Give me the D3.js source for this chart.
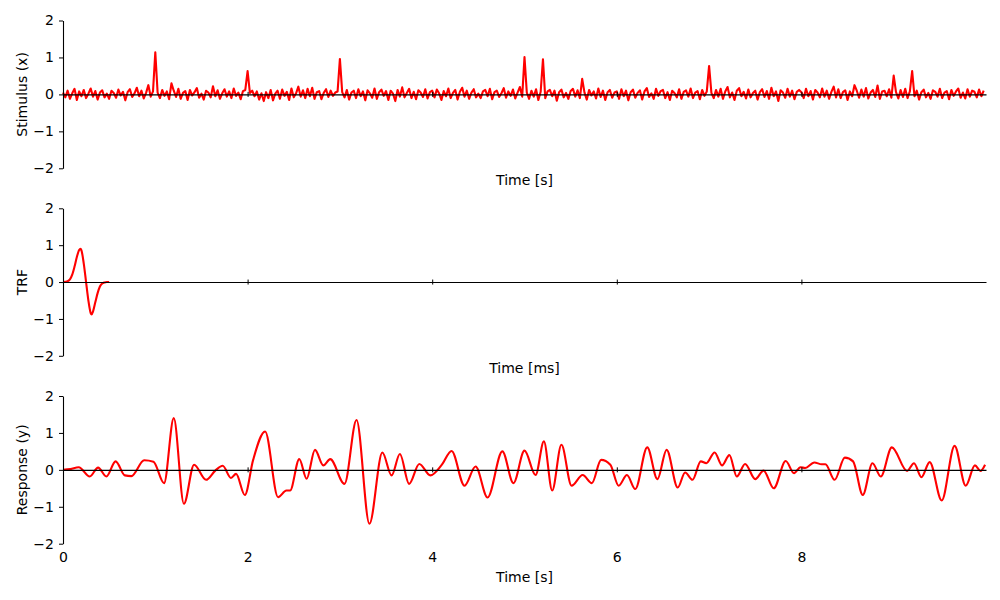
<!DOCTYPE html>
<html>
<head>
<meta charset="utf-8">
<script src="https://cdn.jsdelivr.net/npm/d3@7"></script>
<style>
body { margin: 0; background: #fff; }
text { font-family: "DejaVu Sans", sans-serif; }
</style>
</head>
<body>
<div id="chart"></div>
<script>
// stimulus, one value every 0.025 s
const stimStep = 0.025;
const stimulus = [
  0.05,-0.08,0.1,-0.12,0.03,0.15,-0.15,0.08,-0.05,0.12,-0.1,0.02,0.16,-0.06,0.09,-0.14,0.05,0.11,-0.08,0.02,-0.12,0.1,0.04,-0.09,0.13,-0.03,0.07,-0.16,0.06,0.14,-0.07,0.03,0.18,-0.05,0.1,-0.11,0.04,0.25,-0.06,0.08,
  1.14,0.05,-0.1,0.12,-0.04,0.08,-0.13,0.3,0.1,-0.07,0.15,-0.12,0.04,0.09,-0.15,0.12,-0.03,0.06,0.17,-0.09,0.02,-0.14,0.1,0.05,-0.08,0.22,-0.05,0.11,-0.12,0.03,0.14,-0.06,0.08,-0.1,0.16,-0.04,0.05,-0.13,0.09,0.12,
  0.63,0.04,0.1,-0.05,0.08,-0.14,0.03,-0.18,0.06,-0.1,0.12,-0.16,0.02,0.1,-0.12,0.13,-0.04,0.07,-0.15,0.16,-0.08,0.03,0.21,-0.06,0.11,-0.1,0.15,-0.05,0.18,-0.12,0.06,0.09,-0.13,0.04,0.14,-0.07,0.1,-0.04,0.05,0.08,
  0.96,0.06,-0.08,0.12,-0.14,0.05,0.1,-0.1,0.14,-0.05,0.08,-0.16,0.11,0.03,-0.09,0.16,-0.12,0.06,0.13,-0.04,0.09,-0.15,0.1,0.02,-0.18,0.12,-0.06,0.19,-0.08,0.04,0.15,-0.1,0.07,-0.13,0.11,0.05,-0.07,0.14,-0.11,0.06,
  0.1,-0.08,0.13,0.03,-0.15,0.09,-0.05,0.16,-0.1,0.04,0.12,-0.14,0.07,0.18,-0.06,0.1,-0.12,0.05,0.14,-0.08,0.02,-0.1,0.08,0.12,-0.05,0.15,-0.13,0.06,0.1,-0.07,0.03,0.17,-0.09,0.08,-0.04,0.13,-0.11,0.05,0.2,-0.06,
  1.01,0.05,-0.12,0.1,-0.06,0.14,-0.15,0.07,0.95,-0.1,0.08,0.12,-0.05,0.1,-0.17,0.06,0.13,-0.08,0.04,-0.12,0.09,0.15,-0.06,0.11,-0.1,0.42,0.05,-0.14,0.12,-0.03,0.08,-0.11,0.16,-0.07,0.1,-0.15,0.06,0.12,-0.09,0.05,
  0.08,-0.12,0.14,-0.05,0.1,-0.16,0.06,0.13,-0.09,0.04,0.11,-0.14,0.08,0.17,-0.07,0.03,-0.12,0.15,-0.04,0.09,0.12,-0.1,0.06,-0.15,0.1,0.04,-0.08,0.14,-0.12,0.07,0.11,-0.06,0.16,-0.1,0.05,0.09,-0.13,0.12,-0.04,0.08,
  0.77,0.04,-0.1,0.12,-0.06,0.15,-0.12,0.08,0.2,-0.08,0.05,-0.15,0.1,0.17,-0.05,0.07,-0.11,0.13,-0.08,0.04,0.1,-0.14,0.06,0.14,-0.07,0.09,-0.12,0.18,-0.05,0.08,-0.18,0.11,0.05,-0.09,0.15,-0.06,0.1,-0.13,0.07,0.12,
  0.06,-0.1,0.15,-0.05,0.09,-0.14,0.12,0.05,-0.08,0.16,-0.06,0.1,-0.12,0.07,0.21,-0.08,0.14,-0.1,0.06,0.11,-0.15,0.08,-0.05,0.25,0.1,-0.09,0.13,-0.06,0.17,-0.11,0.05,0.12,-0.07,0.24,-0.12,0.08,0.1,-0.05,0.14,-0.09,
  0.51,0.06,-0.11,0.12,-0.07,0.15,-0.1,0.08,0.63,-0.05,0.1,-0.14,0.06,0.13,-0.08,0.04,-0.12,0.11,0.07,-0.06,0.15,-0.1,0.05,0.09,-0.13,0.12,-0.04,0.08,0.16,-0.09,0.05,-0.11,0.14,-0.06,0.1,0.07,-0.08,0.13,-0.05,0.1
];

// TRF
const trfTime = [0,0.025,0.05,0.075,0.1,0.125,0.15,0.175,0.19,0.2,0.225,0.25,0.275,0.3,0.31,0.325,0.35,0.375,0.4,0.425,0.45,0.475,0.5];
const trfValues = [0,0.005,0.02,0.07,0.2,0.42,0.68,0.87,0.9,0.86,0.5,0,-0.5,-0.84,-0.88,-0.8,-0.55,-0.3,-0.12,-0.04,-0.01,0,0];

// response
const respTime = [0,0.08,0.17,0.29,0.38,0.47,0.57,0.67,0.74,0.88,0.98,1.095,1.2,1.31,1.42,1.55,1.65,1.73,1.82,1.875,1.97,2.06,2.19,2.33,2.42,2.46,2.56,2.64,2.73,2.82,2.895,3.05,3.18,3.32,3.46,3.56,3.65,3.75,3.86,3.98,4.105,4.21,4.35,4.47,4.6,4.76,4.88,5.0,5.12,5.21,5.3,5.4,5.51,5.63,5.73,5.83,5.93,6.02,6.11,6.2,6.33,6.44,6.54,6.66,6.74,6.82,6.91,6.97,7.06,7.14,7.22,7.3,7.39,7.5,7.59,7.7,7.83,7.92,7.99,8.04,8.14,8.22,8.26,8.36,8.47,8.56,8.665,8.77,8.86,8.98,9.145,9.22,9.3,9.39,9.52,9.66,9.78,9.88,9.94,9.99];
const respValues = [0,0.02,0.07,-0.18,0.06,-0.18,0.23,-0.15,-0.17,0.26,0.22,-0.36,1.4,-0.92,0.14,-0.27,-0.02,0.11,-0.22,-0.11,-0.68,0.27,1.04,-0.74,-0.56,-0.56,0.29,-0.24,0.54,0.12,0.29,-0.38,1.35,-1.46,0.47,-0.15,0.43,-0.38,0.16,-0.15,0.14,0.51,-0.43,0.09,-0.75,0.5,-0.36,0.52,-0.14,0.77,-0.56,0.68,-0.43,-0.14,-0.36,0.27,0.14,-0.43,-0.14,-0.52,0.61,-0.25,0.54,-0.48,-0.07,-0.27,0.23,0.18,0.47,0.12,0.4,-0.18,0.16,-0.25,-0.02,-0.5,0.24,-0.09,0.07,0.05,0.2,0.15,0.15,-0.27,0.33,0.23,-0.68,0.18,-0.18,0.61,-0.03,0.18,-0.2,0.21,-0.83,0.65,-0.43,0.12,-0.03,0.14];

const yTicks = [-2, -1, 0, 1, 2];
const xTicks = [0, 2, 4, 6, 8];

const width = 1000, height = 600;

let svg = d3.select("#chart")
    .append("svg")
    .attr("width", width)
    .attr("height", height);

let x = d3.scaleLinear().domain([0, 10]).range([63, 986]);

// panel layout
let panels = [
    {top: 20.5, bottom: 168.3, ylabel: "Stimulus (x)", xlabel: "Time [s]",
     points: stimulus.map((v, i) => [i * stimStep, v]), curve: d3.curveLinear},
    {top: 208.3, bottom: 355.8, ylabel: "TRF", xlabel: "Time [ms]",
     points: trfTime.map((t, i) => [t, trfValues[i]]), curve: d3.curveMonotoneX},
    {top: 396, bottom: 543.7, ylabel: "Response (y)", xlabel: "Time [s]",
     points: respTime.map((t, i) => [t, respValues[i]]), curve: d3.curveMonotoneX}
];

panels.forEach(function(p, k) {
    let y = d3.scaleLinear().domain([-2, 2]).range([p.bottom, p.top]);
    let g = svg.append("g");

    // data line
    let line = d3.line()
        .x(d => x(d[0]))
        .y(d => y(d[1]))
        .curve(p.curve);
    g.append("path")
        .datum(p.points)
        .attr("fill", "none")
        .attr("stroke", "#ff0000")
        .attr("stroke-width", 2.1)
        .attr("stroke-linejoin", "round")
        .attr("d", line);

    // y axis
    let yAxis = g.append("g")
        .attr("transform", `translate(${x(0)},0)`)
        .call(d3.axisLeft(y).tickValues(yTicks).tickFormat(d3.format("d"))
            .tickSize(4).tickPadding(5).tickSizeOuter(0));
    yAxis.selectAll("text").style("font-size", "14px").attr("fill", "#000");
    yAxis.select(".domain").attr("stroke-width", 1.1);

    // x axis through zero
    let xAxis = g.append("g")
        .attr("transform", `translate(0,${y(0)})`)
        .call(d3.axisBottom(x).tickValues(xTicks).tickSizeOuter(0).tickFormat(""));
    xAxis.selectAll(".tick line").attr("y1", -2.5).attr("y2", 2.5);
    xAxis.select(".domain").attr("stroke-width", 1.1);

    // tick labels only on the last panel, under the plot
    if (k == panels.length - 1) {
        let lab = g.append("g")
            .attr("transform", `translate(0,${p.bottom})`)
            .call(d3.axisBottom(x).tickValues(xTicks).tickFormat(d3.format("d"))
                .tickSize(0).tickPadding(8));
        lab.select(".domain").remove();
        lab.selectAll("text").style("font-size", "14px").attr("fill", "#000");
    }

    // axis labels
    g.append("text")
        .attr("x", (x(0) + x(10)) / 2)
        .attr("y", k == 2 ? p.bottom + 38 : p.bottom + 17)
        .style("text-anchor", "middle")
        .style("font-size", "14px")
        .text(p.xlabel);

    g.append("text")
        .attr("transform", `translate(27,${(p.top + p.bottom) / 2}) rotate(-90)`)
        .style("text-anchor", "middle")
        .style("font-size", "14px")
        .text(p.ylabel);
});
</script>
</body>
</html>
